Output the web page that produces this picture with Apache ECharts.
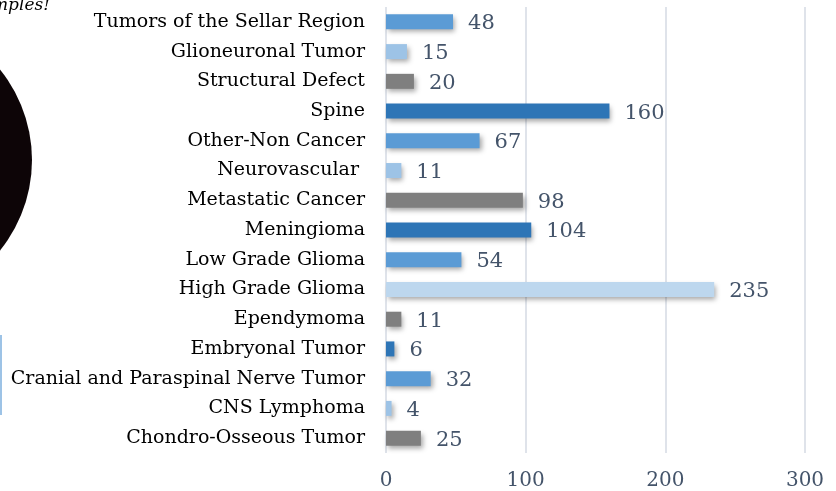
<!DOCTYPE html>
<html><head><meta charset="utf-8">
<style>html,body{margin:0;padding:0;background:#fff}#c{width:836px;height:491px}</style>
<script src="https://cdn.jsdelivr.net/npm/echarts@6/dist/echarts.min.js"></script>
</head><body><div id="c"></div>
<script>
var categories = ["Tumors of the Sellar Region","Glioneuronal Tumor","Structural Defect","Spine","Other-Non Cancer","Neurovascular ","Metastatic Cancer","Meningioma","Low Grade Glioma","High Grade Glioma","Ependymoma","Embryonal Tumor","Cranial and Paraspinal Nerve Tumor","CNS Lymphoma","Chondro-Osseous Tumor"];
var values = [48,15,20,160,67,11,98,104,54,235,11,6,32,4,25];
var barColors = ["#5b9bd5","#9dc3e6","#7f7f7f","#2e75b6","#5b9bd5","#9dc3e6","#7f7f7f","#2e75b6","#5b9bd5","#bdd7ee","#7f7f7f","#2e75b6","#5b9bd5","#9dc3e6","#7f7f7f"];
var xTicks = [0,100,200,300];

var serif = '"DejaVu Serif", "Liberation Serif", serif';
var chart = echarts.init(document.getElementById('c'));
chart.setOption({
  animation: false,
  grid: {left: 386, right: 31, top: 7, bottom: 38, containLabel: false},
  xAxis: {
    type: 'value', min: xTicks[0], max: xTicks[xTicks.length-1], interval: 100,
    axisLine: {show: false}, axisTick: {show: false},
    splitLine: {show: true, lineStyle: {color: '#dfe3ea', width: 2}},
    axisLabel: {color: '#44546a', fontFamily: serif, fontSize: 20, margin: 18}
  },
  yAxis: {
    type: 'category', data: categories, inverse: true,
    axisLine: {show: false}, axisTick: {show: false},
    axisLabel: {color: '#000', fontFamily: serif, fontSize: 19, margin: 21}
  },
  series: [{
    type: 'bar', barWidth: 15,
    data: values.map(function(v, i){ return {value: v, itemStyle: {color: barColors[i]}}; }),
    itemStyle: {shadowColor: 'rgba(0,0,0,0.35)', shadowBlur: 5, shadowOffsetX: 2, shadowOffsetY: 3},
    label: {show: true, position: 'right', distance: 15, color: '#44546a', fontFamily: serif, fontSize: 21, offset: [0, 2]}
  }],
  graphic: [
    {type: 'circle', shape: {cx: -112, cy: 160, r: 144}, style: {fill: '#0d0507'}},
    {type: 'rect', shape: {x: 0, y: 335, width: 2, height: 80}, style: {fill: '#9dc3e6'}},
    {type: 'text', style: {text: 'Examples!', x: 50, y: 14, textAlign: 'right', textVerticalAlign: 'bottom', fill: '#000', font: 'italic 17px ' + serif}}
  ]
});
</script></body></html>
